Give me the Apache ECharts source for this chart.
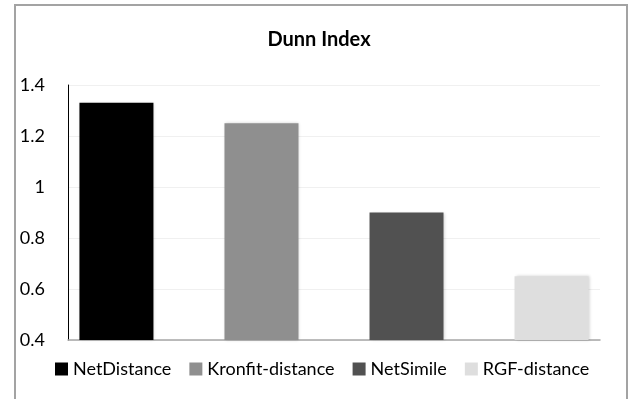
<!DOCTYPE html>
<html>
<head>
<meta charset="utf-8">
<title>Dunn Index</title>
<script src="https://cdn.jsdelivr.net/npm/echarts@6/dist/echarts.min.js"></script>
<style>
  html, body { margin: 0; padding: 0; background: #fff; }
  #chart { width: 638px; height: 399px; }
</style>
</head>
<body>
<div id="chart"></div>
<script>
// Dunn index per distance method
const methods = ['NetDistance', 'Kronfit-distance', 'NetSimile', 'RGF-distance'];
const dunnValues = [1.33, 1.25, 0.90, 0.65];
const methodColors = ['#000000', '#8f8f8f', '#515151', '#dedede'];
const yTicks = { min: 0.4, max: 1.4, step: 0.2 };

const FONT = 'Lato, "Open Sans", sans-serif';

const chart = echarts.init(document.getElementById('chart'), null, { renderer: 'canvas' });

const series = methods.map((name, i) => ({
  name: name,
  type: 'bar',
  data: [dunnValues[i]],
  barWidth: 74,
  barGap: '96%',
  itemStyle: {
    color: methodColors[i],
    shadowColor: 'rgba(0,0,0,0.18)',
    shadowBlur: 3,
    shadowOffsetX: 1,
    shadowOffsetY: 0
  }
}));

chart.setOption({
  animation: false,
  textStyle: { fontFamily: FONT },
  graphic: [{
    type: 'rect',
    shape: { x: 15, y: 5, width: 612, height: 410 },
    style: { fill: 'none', stroke: '#a3a3a3', lineWidth: 2 },
    silent: true,
    z: -1
  }],
  title: {
    text: 'Dunn Index',
    left: 'center',
    top: 25,
    textStyle: { fontFamily: FONT, fontSize: 20, fontWeight: 'bold', color: '#000' }
  },
  legend: {
    data: methods,
    left: 55,
    top: 360,
    padding: 0,
    icon: 'rect',
    itemWidth: 13,
    itemHeight: 13,
    itemGap: 18,
    textStyle: { fontFamily: FONT, fontSize: 18, color: '#000', padding: [0, 0, 0, 0] }
  },
  grid: { left: 68, right: 38, top: 85, bottom: 59, containLabel: false },
  xAxis: {
    type: 'category',
    data: [''],
    axisLine: { show: true, lineStyle: { color: '#a6a6a6', width: 1.5 } },
    axisTick: { show: false },
    axisLabel: { show: false },
    splitLine: { show: false }
  },
  yAxis: {
    type: 'value',
    min: yTicks.min,
    max: yTicks.max,
    interval: yTicks.step,
    axisLine: { show: true, lineStyle: { color: '#000', width: 1 } },
    axisTick: { show: false },
    axisLabel: {
      fontFamily: FONT,
      fontSize: 18,
      color: '#000',
      margin: 23,
      formatter: v => String(Math.round(v * 10) / 10)
    },
    splitLine: { show: true, lineStyle: { color: '#f0f0f0', width: 1 } }
  },
  series: series
});
</script>
</body>
</html>
